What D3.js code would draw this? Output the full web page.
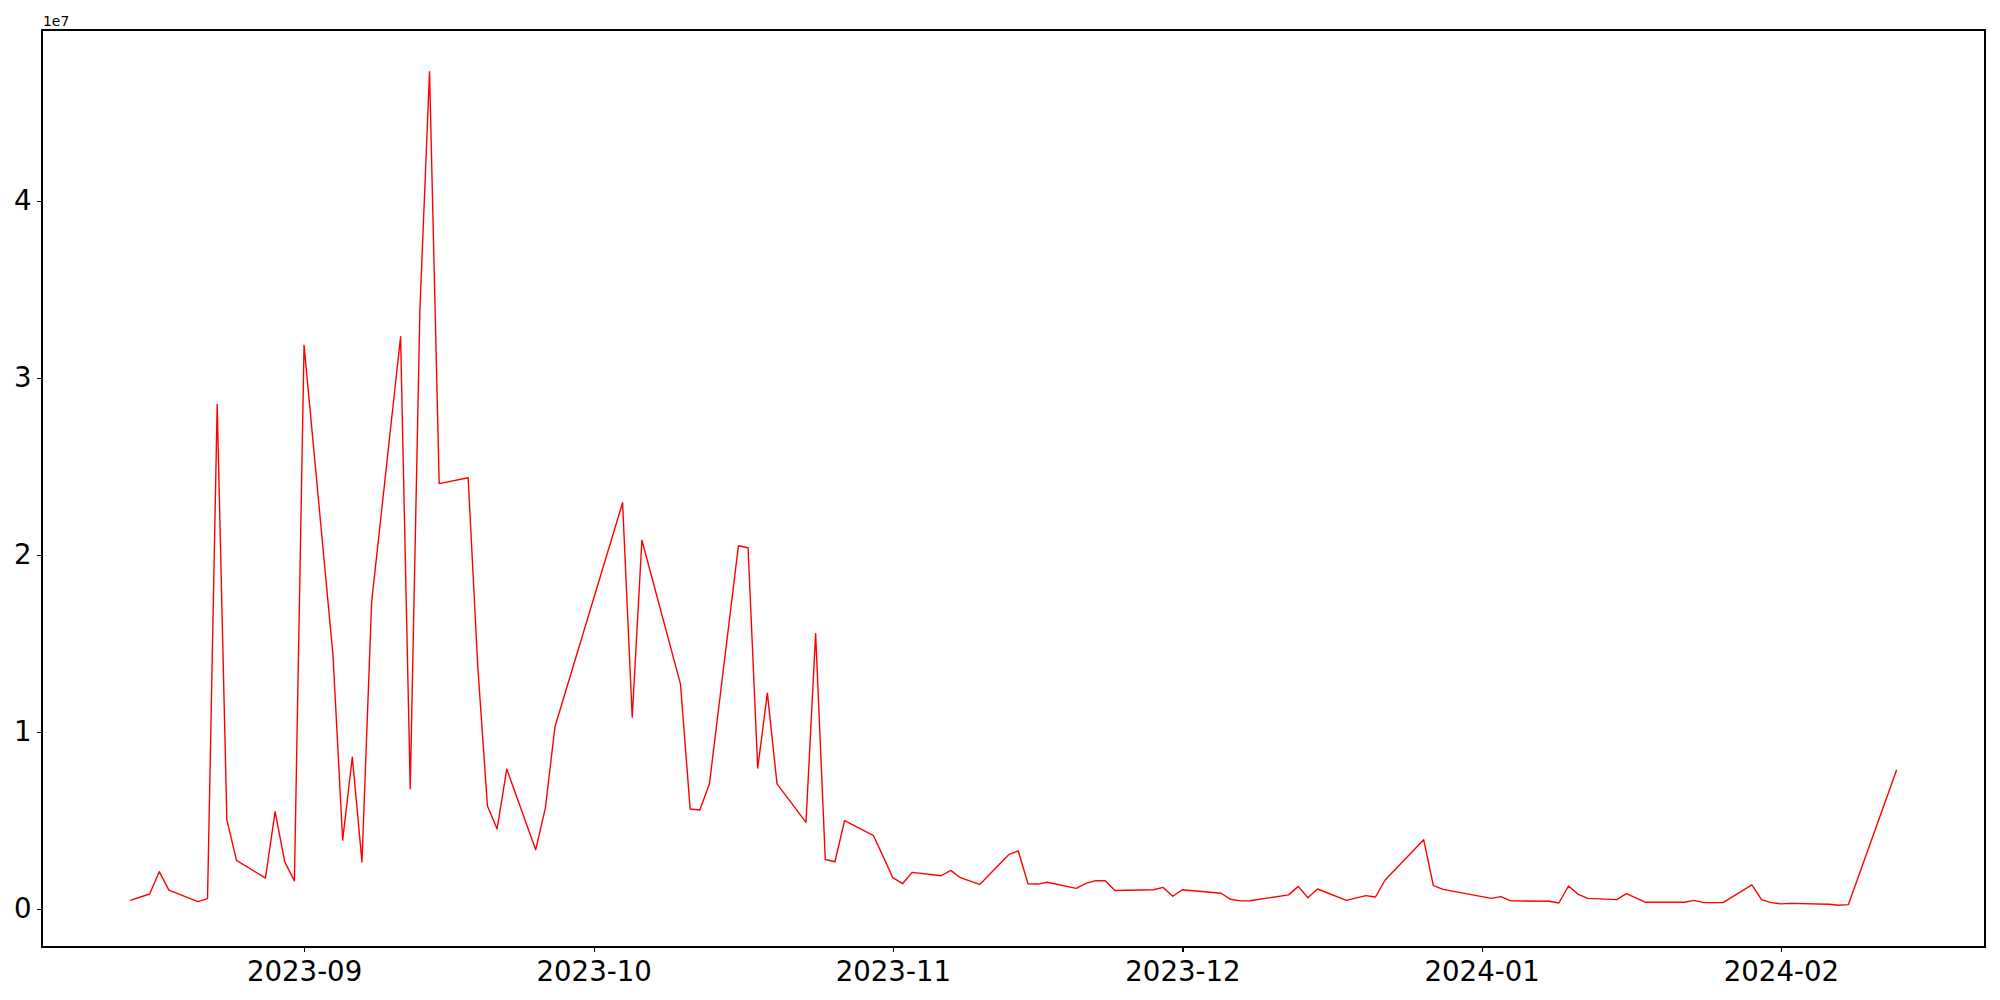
<!DOCTYPE html>
<html>
<head>
<meta charset="utf-8">
<script src="https://cdn.jsdelivr.net/npm/d3@7"></script>
<style>
  body { margin: 0; background: #fff; }
  svg { display: block; font-family: "DejaVu Sans", sans-serif; }
</style>
</head>
<body>
<script>
const dates = [
  '2023-08-14', '2023-08-16', '2023-08-17', '2023-08-18', '2023-08-21', '2023-08-22', '2023-08-23',
  '2023-08-24', '2023-08-25', '2023-08-28', '2023-08-29', '2023-08-30', '2023-08-31', '2023-09-01',
  '2023-09-04', '2023-09-05', '2023-09-06', '2023-09-07', '2023-09-08', '2023-09-11', '2023-09-12',
  '2023-09-13', '2023-09-14', '2023-09-15', '2023-09-18', '2023-09-19', '2023-09-20', '2023-09-21',
  '2023-09-22', '2023-09-25', '2023-09-26', '2023-09-27', '2023-10-04', '2023-10-05', '2023-10-06',
  '2023-10-10', '2023-10-11', '2023-10-12', '2023-10-13', '2023-10-16', '2023-10-17', '2023-10-18',
  '2023-10-19', '2023-10-20', '2023-10-23', '2023-10-24', '2023-10-25', '2023-10-26', '2023-10-27',
  '2023-10-30', '2023-10-31', '2023-11-01', '2023-11-02', '2023-11-03', '2023-11-06', '2023-11-07',
  '2023-11-08', '2023-11-10', '2023-11-13', '2023-11-14', '2023-11-15', '2023-11-16', '2023-11-17',
  '2023-11-20', '2023-11-21', '2023-11-22', '2023-11-23', '2023-11-24', '2023-11-28', '2023-11-29',
  '2023-11-30', '2023-12-01', '2023-12-05', '2023-12-06', '2023-12-07', '2023-12-08', '2023-12-12',
  '2023-12-13', '2023-12-14', '2023-12-15', '2023-12-18', '2023-12-20', '2023-12-21', '2023-12-22',
  '2023-12-26', '2023-12-27', '2023-12-28', '2024-01-02', '2024-01-03', '2024-01-04', '2024-01-08',
  '2024-01-09', '2024-01-10', '2024-01-11', '2024-01-12', '2024-01-15', '2024-01-16', '2024-01-18',
  '2024-01-22', '2024-01-23', '2024-01-24', '2024-01-26', '2024-01-29', '2024-01-30', '2024-01-31',
  '2024-02-01', '2024-02-02', '2024-02-06', '2024-02-07', '2024-02-08', '2024-02-13'
]
const values = [
  490000, 850000, 2110000, 1070000, 420000, 590000, 28490000,
  5050000, 2750000, 1750000, 5500000, 2660000, 1590000, 31830000,
  14310000, 3890000, 8580000, 2660000, 17330000, 32310000, 6790000,
  33810000, 47280000, 24020000, 24350000, 13670000, 5820000, 4520000,
  7900000, 3350000, 5700000, 10310000, 22940000, 10830000, 20820000,
  12700000, 5650000, 5590000, 7070000, 20510000, 20400000, 7960000,
  12190000, 7070000, 4890000, 15550000, 2800000, 2670000, 4990000,
  4140000, 2960000, 1770000, 1430000, 2070000, 1880000, 2180000,
  1770000, 1390000, 3070000, 3280000, 1430000, 1410000, 1510000,
  1170000, 1450000, 1600000, 1600000, 1050000, 1090000, 1220000,
  720000, 1090000, 890000, 550000, 460000, 470000, 800000,
  1280000, 640000, 1130000, 490000, 760000, 680000, 1640000,
  3910000, 1320000, 1110000, 600000, 700000, 460000, 440000,
  340000, 1300000, 830000, 600000, 530000, 870000, 380000,
  380000, 490000, 360000, 360000, 1360000, 530000, 360000,
  290000, 320000, 270000, 210000, 250000, 7860000
]
const xTickDates = ['2023-09-01', '2023-10-01', '2023-11-01', '2023-12-01', '2024-01-01', '2024-02-01']
const yTickValues = [0, 10000000, 20000000, 30000000, 40000000]

const width = 2000
const height = 1000
const margin = { top: 30, right: 15, bottom: 53, left: 42 }
const innerW = width - margin.left - margin.right
const innerH = height - margin.top - margin.bottom
const fontSize = 27.6

const parse = d3.utcParse('%Y-%m-%d')
const data = dates.map((d, i) => ({ date: parse(d), value: values[i] }))

// matplotlib style 5% margins
const xExt = d3.extent(data, d => d.date)
const xPad = (xExt[1] - xExt[0]) * 0.05
const yExt = d3.extent(data, d => d.value)
const yPad = (yExt[1] - yExt[0]) * 0.05

const xScale = d3.scaleUtc()
  .domain([new Date(+xExt[0] - xPad), new Date(+xExt[1] + xPad)])
  .range([0, innerW])

const yScale = d3.scaleLinear()
  .domain([yExt[0] - yPad, yExt[1] + yPad])
  .range([innerH, 0])

const svg = d3.select('body')
  .append('svg')
  .attr('width', width)
  .attr('height', height)

const g = svg.append('g')
  .attr('transform', `translate(${margin.left},${margin.top})`)

const xAxis = d3.axisBottom(xScale)
  .tickValues(xTickDates.map(parse))
  .tickFormat(d3.utcFormat('%Y-%m'))
  .tickSize(4.9)
  .tickSizeOuter(0)
  .tickPadding(9.5)

const yAxis = d3.axisLeft(yScale)
  .tickValues(yTickValues)
  .tickFormat(d => d / 1e7)
  .tickSize(4.9)
  .tickSizeOuter(0)
  .tickPadding(5.5)

g.append('g')
  .attr('transform', `translate(0,${innerH})`)
  .call(xAxis)
  .call(a => a.select('.domain').remove())

g.append('g')
  .call(yAxis)
  .call(a => a.select('.domain').remove())

g.selectAll('.tick line')
  .attr('stroke', '#000')
  .attr('stroke-width', 1.2)
  .attr('shape-rendering', 'crispEdges')

g.selectAll('.tick text')
  .attr('fill', '#000')
  .style('font-size', fontSize + 'px')
  .style('font-family', '"DejaVu Sans", sans-serif')

const line = d3.line()
  .x(d => xScale(d.date))
  .y(d => yScale(d.value))

g.append('path')
  .datum(data)
  .attr('fill', 'none')
  .attr('stroke', '#ff0000')
  .attr('stroke-width', 1.4)
  .attr('stroke-linejoin', 'round')
  .attr('d', line)

// axes frame
g.append('rect')
  .attr('width', innerW)
  .attr('height', innerH)
  .attr('fill', 'none')
  .attr('stroke', '#000')
  .attr('stroke-width', 1.2)
  .attr('shape-rendering', 'crispEdges')

svg.append('text')
  .attr('x', margin.left + 1)
  .attr('y', margin.top - 4)
  .style('font-size', '13.9px')
  .text('1e7')
</script>
</body>
</html>
